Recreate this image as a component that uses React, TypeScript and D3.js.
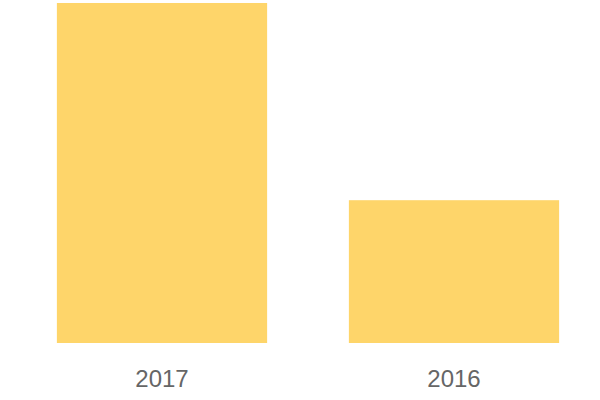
import React from "react";
import * as d3 from "d3";

const categories = ["2017", "2016"];
const values = [100, 42];

const W = 600;
const H = 400;

export default function App() {
  const x = d3
    .scaleBand<string>()
    .domain(categories)
    .range([16, 600])
    .paddingInner(0.28)
    .paddingOuter(0.14);
  const y = d3.scaleLinear().domain([0, 100]).range([343, 3]);

  return (
    <svg
      width={W}
      height={H}
      style={{ position: "absolute", left: 0, top: 0, background: "#fff" }}
    >
      {categories.map((c, i) => (
        <rect
          key={c}
          x={x(c)}
          y={y(values[i])}
          width={x.bandwidth()}
          height={y(0) - y(values[i])}
          fill="#FED56A"
        />
      ))}
      {categories.map((c) => (
        <text
          key={"t" + c}
          x={(x(c) as number) + x.bandwidth() / 2}
          y={387}
          textAnchor="middle"
          fontFamily="'Liberation Sans', Arial, sans-serif"
          fontSize={24}
          fill="#666666"
        >
          {c}
        </text>
      ))}
    </svg>
  );
}
